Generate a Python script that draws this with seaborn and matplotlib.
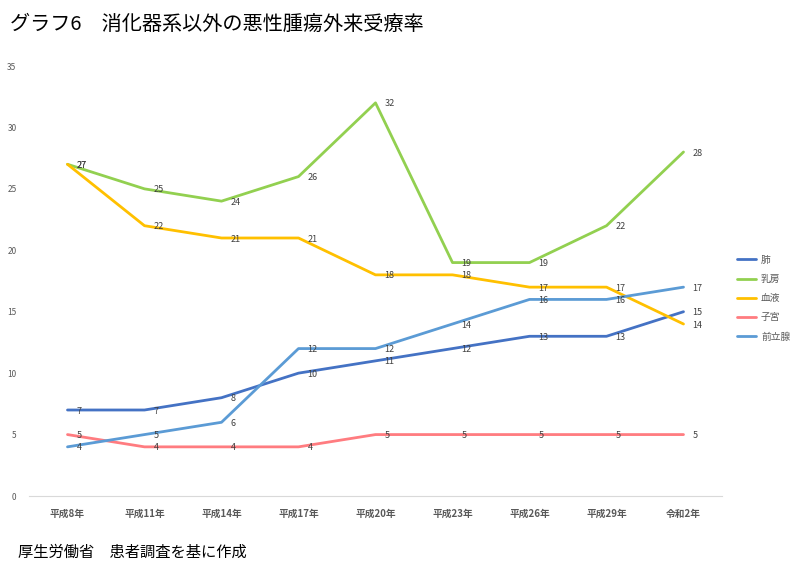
import pandas as pd
import seaborn as sns
import matplotlib.pyplot as plt

years = ['平成8年', '平成11年', '平成14年', '平成17年', '平成20年',
         '平成23年', '平成26年', '平成29年', '令和2年']
lung = [7, 7, 8, 10, 11, 12, 13, 13, 15]
breast = [27, 25, 24, 26, 32, 19, 19, 22, 28]
blood = [27, 22, 21, 21, 18, 18, 17, 17, 14]
uterus = [5, 4, 4, 4, 5, 5, 5, 5, 5]
prostate = [4, 5, 6, 12, 12, 14, 16, 16, 17]

series = {'肺': lung, '乳房': breast, '血液': blood, '子宮': uterus, '前立腺': prostate}
colors = {'肺': '#4472C4', '乳房': '#92D050', '血液': '#FFC000',
          '子宮': '#FF7C80', '前立腺': '#5B9BD5'}

rows = []
for name, vals in series.items():
    for i, v in enumerate(vals):
        rows.append({'x': i, 'value': v, 'site': name})
df = pd.DataFrame(rows)

sns.set_style('white')
plt.rcParams['font.family'] = ['Noto Sans CJK JP', 'DejaVu Sans']

fig = plt.figure(figsize=(7.98, 5.68), dpi=100)
ax = fig.add_axes([29 / 798, 1 - 496 / 568, (722 - 29) / 798, (496 - 66) / 568])

sns.lineplot(data=df, x='x', y='value', hue='site', palette=colors,
             linewidth=2.0, ax=ax, legend=True)

# data labels right of each point
for name, vals in series.items():
    for i, v in enumerate(vals):
        ax.annotate(str(v), (i, v), xytext=(9, -1), textcoords='offset pixels',
                    ha='left', va='center', fontsize=6.5, color='#404040')

ax.set_xlim(-0.5, 8.5)
ax.set_ylim(0, 35)
ax.set_yticks(range(0, 36, 5))
ax.set_xticks(range(len(years)))
ax.set_xticklabels(years, fontsize=7, fontweight='bold', color='#595959')
ax.tick_params(axis='y', labelsize=6, colors='#595959', length=0, pad=9)
ax.tick_params(axis='x', length=0, pad=9)
ax.set_xlabel('')
ax.set_ylabel('')
for s in ['top', 'right', 'left']:
    ax.spines[s].set_visible(False)
ax.spines['bottom'].set_color('#D9D9D9')
ax.spines['bottom'].set_linewidth(0.8)

handles, labels = ax.get_legend_handles_labels()
leg = ax.legend(handles, labels, loc='upper left',
                bbox_to_anchor=(728 / 798, 1 - 246 / 568),
                bbox_transform=fig.transFigure, frameon=False, fontsize=7,
                handlelength=2.0, labelspacing=0.95, handletextpad=0.5)
for t in leg.get_texts():
    t.set_color('#595959')

fig.text(10 / 798, 1 - 24 / 568, 'グラフ6　消化器系以外の悪性腫瘍外来受療率',
         fontsize=14.5, va='center', ha='left', color='black')
fig.text(18 / 798, 1 - 552 / 568, '厚生労働省　患者調査を基に作成',
         fontsize=11, va='center', ha='left', color='black')

fig.savefig('out.png', dpi=100)
